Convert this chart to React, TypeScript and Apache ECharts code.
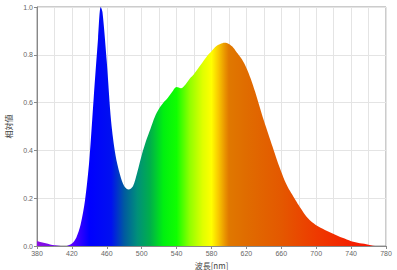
import React, { useEffect, useRef } from "react";
import * as echarts from "echarts";

const wavelengths = [
  380, 385, 390, 395, 400, 405, 410, 415, 420, 425, 430, 435, 440, 445, 450, 453, 455, 460, 465, 470,
  475, 480, 485, 490, 495, 500, 505, 510, 515, 520, 525, 530, 535, 540, 545, 550, 555, 560, 565, 570,
  575, 580, 585, 590, 595, 600, 605, 610, 615, 620, 625, 630, 635, 640, 645, 650, 655, 660, 665, 670,
  675, 680, 685, 690, 695, 700, 705, 710, 715, 720, 725, 730, 735, 740, 745, 750, 755, 760, 765, 770, 780,
];
const values = [
  0.02, 0.016, 0.011, 0.006, 0.003, 0.001, 0.0, 0.001, 0.01, 0.035, 0.09, 0.19, 0.36, 0.62, 0.87, 1.0, 0.98, 0.77, 0.52, 0.38,
  0.3, 0.25, 0.236, 0.25, 0.31, 0.38, 0.44, 0.49, 0.54, 0.575, 0.6, 0.62, 0.645, 0.665, 0.66, 0.675, 0.7, 0.72, 0.745, 0.77,
  0.795, 0.815, 0.835, 0.845, 0.85, 0.845, 0.83, 0.805, 0.78, 0.745, 0.7, 0.645, 0.585, 0.525, 0.47, 0.415, 0.36, 0.31, 0.265, 0.23,
  0.2, 0.17, 0.142, 0.118, 0.1, 0.087, 0.076, 0.067, 0.059, 0.05, 0.042, 0.034, 0.027, 0.02, 0.016, 0.012, 0.009, 0.005, 0.001, 0.0, 0.0,
];
const gradientNm = [380, 420, 440, 465, 480, 495, 510, 525, 540, 555, 570, 580, 588, 596, 600, 620, 660, 700, 740, 780];
const gradientColors = [
  "#8a10e0", "#5a00ff", "#0000ff", "#0010f0", "#005aa0", "#00907a", "#00b04a", "#00f010", "#10ff00",
  "#90ff00", "#e0ff00", "#ffff00", "#f8c800", "#e89000", "#e07800", "#e06c00", "#e45800", "#ee3a00", "#f42000", "#ff1000",
];
const xMin = 380;
const xMax = 780;

export default function App() {
  const ref = useRef<HTMLDivElement>(null);
  useEffect(() => {
    if (!ref.current) return;
    const chart = echarts.init(ref.current, null, { renderer: "svg" });
    const stops = gradientNm.map((nm, i) => ({
      offset: (nm - xMin) / (xMax - xMin),
      color: gradientColors[i],
    }));
    const labelStyle = { color: "#666", fontSize: 7, fontFamily: "Liberation Sans, sans-serif" };
    chart.setOption({
      animation: false,
      backgroundColor: "#ffffff",
      grid: {
        left: 37,
        right: 11,
        top: 7,
        bottom: 24,
        containLabel: false,
        outerBoundsMode: "none",
        show: true,
        borderColor: "#999",
        borderWidth: 1,
      },
      xAxis: {
        type: "value",
        min: xMin,
        max: xMax,
        interval: 40,
        name: "波長[nm]",
        nameLocation: "middle",
        nameGap: 13,
        nameTextStyle: { color: "#444", fontSize: 8, fontFamily: "Noto Sans CJK JP, sans-serif" },
        axisLine: { show: true, lineStyle: { color: "#888" } },
        axisTick: { show: true, length: 3, lineStyle: { color: "#888" } },
        axisLabel: { ...labelStyle, margin: 4 },
        splitLine: { show: true, lineStyle: { color: "#e4e4e4", width: 1 } },
        minorTick: { show: false, splitNumber: 2 },
        minorSplitLine: { show: true, lineStyle: { color: "#e4e4e4", width: 1 } },
      },
      yAxis: {
        type: "value",
        min: 0,
        max: 1,
        interval: 0.2,
        name: "相対値",
        nameLocation: "middle",
        nameGap: 22,
        nameTextStyle: { color: "#444", fontSize: 8, fontFamily: "Noto Sans CJK JP, sans-serif" },
        axisLine: { show: true, lineStyle: { color: "#888" } },
        axisTick: { show: true, length: 3, lineStyle: { color: "#888" } },
        axisLabel: { ...labelStyle, margin: 4, formatter: (v: number) => v.toFixed(1) },
        splitLine: { show: true, lineStyle: { color: "#e4e4e4", width: 1 } },
      },
      series: [
        {
          type: "line",
          data: wavelengths.map((w, i) => [w, values[i]]),
          smooth: 0.3,
          showSymbol: false,
          symbol: "none",
          lineStyle: { width: 0 },
          areaStyle: {
            opacity: 1,
            color: new echarts.graphic.LinearGradient(0, 0, 1, 0, stops),
          },
          z: 3,
        },
      ],
    });
    return () => chart.dispose();
  }, []);
  return <div ref={ref} style={{ width: 397, height: 270, position: "absolute", left: 0, top: 0 }} />;
}
